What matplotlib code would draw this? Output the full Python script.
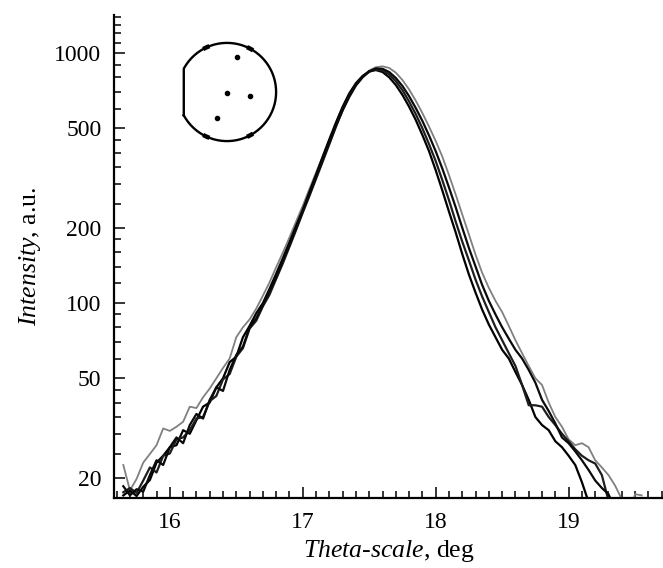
import numpy as np
import matplotlib
matplotlib.use('Agg')
import matplotlib.pyplot as plt
from matplotlib.ticker import FixedLocator, NullFormatter

nan = np.nan

# sample axis, deg (0.05 step from 15.65 to 19.55)
theta = np.round(np.arange(15.65, 19.5501, 0.05), 2)

# gray curve (broadest)
I_gray = [22.5, 17.8, 19.8, 23.0, 24.9, 27.0, 31.5, 30.8, 32.0, 33.5,
          38.5, 38.0, 42.0, 45.5, 50.0, 55.0, 60.0, 73, 80, 86,
          95, 107, 121, 139, 159, 183, 212, 245, 286, 333,
          386, 450, 522, 598, 675, 748, 808, 852, 878, 885,
          872, 835, 780, 715, 645, 575, 508, 445, 385, 325,
          272, 226, 188, 156, 132, 115, 102, 92, 81, 71,
          63, 56, 50, 47, 40, 35, 32, 28.5, 27, 27.5,
          26.5, 23.5, 22, 20.5, 18.6, 16.4, 14.0, 17.2, 17.0]

# black curves
I_k1 = [18.5, 17.0, 18.0, 17.6, 20.5, 23.5, 22.5, 26.5, 29.0, 27.5,
        32.5, 36.0, 34.5, 41.0, 46.0, 44.5, 54, 62, 67, 80,
        87, 98, 112, 126, 148, 170, 199, 233, 272, 320,
        374, 438, 512, 590, 668, 742, 800, 845, 868, 865,
        840, 795, 738, 672, 603, 535, 468, 405, 345, 290,
        242, 200, 166, 140, 118, 102, 90, 80, 72, 65,
        60, 54, 48, 41, 37, 33, 29, 27.5, 25.5, 23.5,
        21.5, 19.5, 18.2, 17.2, 15.0, nan, nan, nan, nan]

I_k2 = [17.5, 18.2, 17.4, 19.5, 22.0, 21.0, 24.5, 25.0, 28.5, 29.0,
        31.0, 34.5, 35.0, 40.5, 42.5, 49.5, 52, 61, 66, 79,
        85, 97, 108, 125, 144, 168, 196, 230, 268, 314,
        368, 432, 508, 592, 672, 745, 802, 842, 860, 852,
        822, 772, 710, 640, 570, 500, 432, 370, 310, 258,
        212, 176, 148, 124, 106, 92, 80, 71, 63, 56,
        47, 39, 39, 38.5, 35, 32.5, 30, 28, 26, 24.5,
        23.5, 22.8, 20.5, 16.2, nan, nan, nan, nan, nan]

I_k3 = [17.0, 17.8, 16.9, 18.4, 19.6, 23.0, 24.5, 26.5, 27.0, 31.0,
        30.0, 34.0, 38.5, 40.0, 46.0, 50.0, 58.0, 61, 73, 81,
        91, 100, 114, 131, 151, 175, 204, 236, 278, 326,
        385, 452, 528, 610, 690, 758, 810, 845, 855, 840,
        800, 745, 680, 610, 540, 470, 405, 340, 282, 232,
        192, 157, 130, 110, 94, 82, 73, 65, 60, 53,
        47, 41, 35, 32.5, 31, 28, 26.5, 24.5, 22.5, 19.2,
        16.0, nan, nan, nan, nan, nan, nan, nan, nan]

# ticks
y_major = [20, 50, 100, 200, 500, 1000]
y_minor = [25, 30, 35, 40, 45, 60, 70, 80, 90, 120, 140, 160, 180,
           250, 300, 350, 400, 450, 600, 700, 800, 900, 1100, 1200, 1300, 1400]
x_major = [16, 17, 18, 19]

# inset: measurement points on the wafer (in wafer radii)
pts_x = [0.20, 0.01, 0.47, -0.21]
pts_y = [0.71, -0.02, -0.08, -0.53]

plt.rcParams['font.family'] = 'Liberation Serif'
plt.rcParams['mathtext.fontset'] = 'custom'
plt.rcParams['mathtext.rm'] = 'Liberation Serif'
plt.rcParams['mathtext.it'] = 'Liberation Serif:italic'
plt.rcParams['font.size'] = 17

fig = plt.figure(figsize=(6.63, 5.68), dpi=100)
ax = fig.add_axes([114/663, 70/568, 549/663, 483/568])

ax.plot(theta, I_gray, color='#808080', lw=1.3)
ax.plot(theta, I_k3, color='black', lw=1.6)
ax.plot(theta, I_k2, color='#1e1e1e', lw=1.6)
ax.plot(theta, I_k1, color='#0a0a0a', lw=1.6)

ax.set_yscale('log')
ax.set_xlim(15.58, 19.71)
ax.set_ylim(16.6, 1420)
ax.yaxis.set_major_locator(FixedLocator(y_major))
ax.yaxis.set_minor_locator(FixedLocator(y_minor))
ax.yaxis.set_minor_formatter(NullFormatter())
ax.set_yticklabels([str(v) for v in y_major])
ax.set_xticks(x_major)
ax.set_xticklabels([str(v) for v in x_major])
ax.xaxis.set_minor_locator(FixedLocator(np.round(np.arange(15.6, 19.75, 0.1), 1)))

for s in ['top', 'right']:
    ax.spines[s].set_visible(False)
for s in ['left', 'bottom']:
    ax.spines[s].set_linewidth(1.6)
ax.tick_params(which='both', direction='in', width=1.1, color='black')
ax.tick_params(which='major', length=8)
ax.tick_params(which='minor', length=5)
ax.tick_params(axis='y', which='major', pad=9)
ax.tick_params(axis='x', which='major', pad=10)

ax.set_xlabel(r'$\mathit{Theta}$-$\mathit{scale}$, deg', fontsize=18.5, labelpad=4)
ax.set_ylabel(r'$\mathit{Intensity}$, a.u.', fontsize=18.5, labelpad=8)

# wafer sketch
ins = fig.add_axes([172/663, (568-147)/568, 110/663, 110/568])
ins.set_xlim(-1.12, 1.12)
ins.set_ylim(-1.12, 1.12)
ins.axis('off')
flat = -0.88
a0 = np.arccos(flat)
ang = np.linspace(-a0, a0, 200)
bx = np.concatenate([np.cos(ang), [flat]])
by = np.concatenate([np.sin(ang), [np.sin(-a0)]])
ins.plot(bx, by, color='black', lw=1.7)
for a in [62, 115, -62, -115]:
    t = np.radians(np.linspace(a - 4, a + 4, 10))
    ins.plot(np.cos(t), np.sin(t), color='black', lw=3.2, solid_capstyle='butt')
ins.plot(pts_x, pts_y, 'o', color='black', ms=3)

fig.savefig('out.png', dpi=100)
